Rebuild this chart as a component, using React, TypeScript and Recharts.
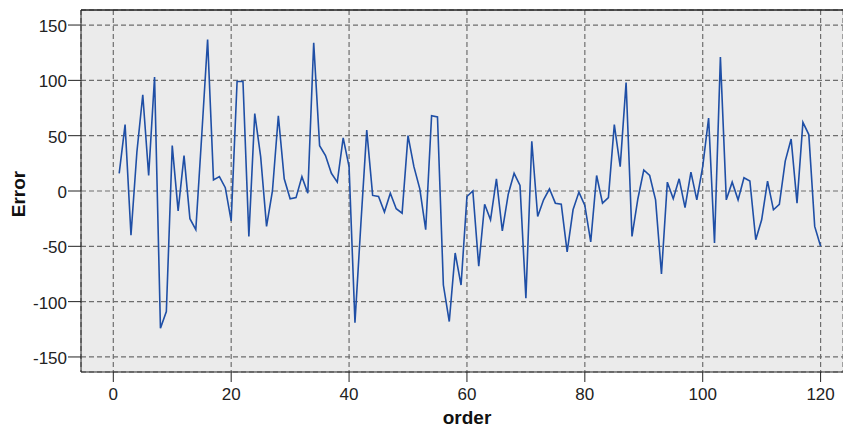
import { CartesianGrid, Line, LineChart, ReferenceLine, XAxis, YAxis } from "recharts"

// residual error per observation, order 1..120
const errorValues = [
  16, 60, -40, 35, 87, 14, 103, -124, -109, 41,
  -18, 32, -25, -35, 50, 137, 10, 13, 3, -27,
  99, 99, -41, 70, 31, -32, 0, 68, 11, -7,
  -6, 13, -2, 134, 41, 32, 16, 8, 48, 22,
  -119, -30, 55, -4, -5, -19, -2, -16, -20, 50,
  22, 2, -35, 68, 67, -85, -118, -56, -85, -5,
  0, -68, -12, -26, 11, -36, -3, 16, 5, -97,
  45, -23, -8, 2, -11, -12, -55, -17, -1, -13,
  -46, 14, -11, -6, 60, 22, 98, -41, -7, 19,
  14, -8, -75, 8, -7, 11, -15, 17, -8, 22,
  66, -47, 121, -8, 8, -8, 12, 9, -44, -26,
  9, -17, -12, 27, 47, -11, 62, 51, -32, -50,
]

const xTicks = [0, 20, 40, 60, 80, 100, 120]
const yTicks = [-150, -100, -50, 0, 50, 100, 150]

const X_DOMAIN: [number, number] = [-5.48, 123.8]
const Y_DOMAIN: [number, number] = [-163.6, 163.6]

const FONT = "'Liberation Sans', Arial, sans-serif"

const data = errorValues.map((v, i) => ({ order: i + 1, error: v }))

export default function App() {
  return (
    <div style={{ position: "absolute", left: 0, top: 0, width: 843, height: 427, background: "#fff" }}>
      <LineChart width={843} height={427} data={data} margin={{ top: 10, right: 0, bottom: 0, left: 0 }}>
        <CartesianGrid
          fill="#ebebeb"
          stroke="#6e6e6e"
          strokeWidth={1.2}
          strokeDasharray="5 3"
        />
        <XAxis
          dataKey="order"
          type="number"
          domain={X_DOMAIN}
          ticks={xTicks}
          allowDataOverflow
          height={55}
          tickSize={10}
          tickMargin={6}
          stroke="#222"
          tick={{ fontSize: 17, fill: "#222", fontFamily: FONT }}
          label={{
            content: () => (
              <text x={467} y={424} textAnchor="middle" fontSize={19} fontWeight="bold" fontFamily={FONT} fill="#111">
                order
              </text>
            ),
          }}
        />
        <YAxis
          type="number"
          domain={Y_DOMAIN}
          ticks={yTicks}
          allowDataOverflow
          width={81}
          tickSize={13}
          tickMargin={1}
          stroke="#222"
          tick={{ fontSize: 17, fill: "#222", fontFamily: FONT, dy: 1 }}
          label={{
            content: () => (
              <text
                x={25}
                y={194}
                transform="rotate(-90 25 194)"
                textAnchor="middle"
                fontSize={19}
                fontWeight="bold"
                fontFamily={FONT}
                fill="#111"
              >
                Error
              </text>
            ),
          }}
        />
        {/* top edge of the plot frame */}
        <ReferenceLine y={Y_DOMAIN[1]} stroke="#222" strokeWidth={1.5} />
        <Line
          type="linear"
          dataKey="error"
          stroke="#1f4fa6"
          strokeWidth={1.6}
          dot={false}
          isAnimationActive={false}
        />
      </LineChart>
    </div>
  )
}
